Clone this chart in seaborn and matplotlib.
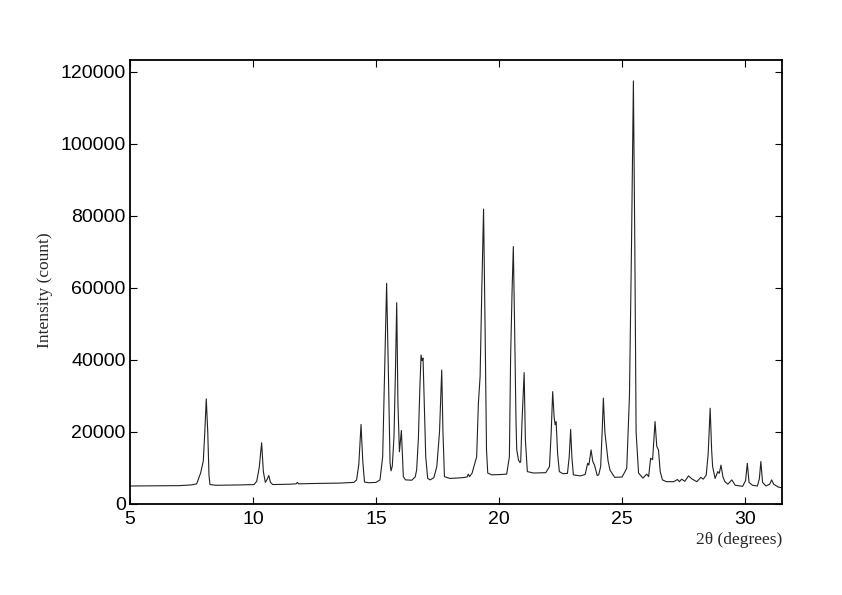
import matplotlib
matplotlib.use("Agg")
import matplotlib.pyplot as plt
import seaborn as sns
import pandas as pd

# 2-theta positions (degrees)
two_theta = [
    5.00, 6.00, 7.00, 7.50, 7.71, 7.87, 7.98, 8.04, 8.10, 8.16, 8.21, 8.25, 8.50,
    9.50, 10.04, 10.15, 10.25, 10.35, 10.42, 10.50, 10.57, 10.64, 10.71, 10.80,
    11.50, 11.75, 11.80, 11.85, 12.50, 13.50, 14.10, 14.21, 14.30, 14.39, 14.46,
    14.53, 14.70, 15.00, 15.16, 15.27, 15.35, 15.43, 15.50, 15.57, 15.61, 15.66,
    15.73, 15.79, 15.84, 15.89, 15.95, 16.03, 16.11, 16.20, 16.45, 16.59, 16.65,
    16.72, 16.78, 16.83, 16.87, 16.91, 16.96, 17.02, 17.10, 17.20, 17.35, 17.47,
    17.58, 17.67, 17.72, 17.78, 18.00, 18.50, 18.70, 18.75, 18.80, 18.90, 18.98,
    19.09, 19.16, 19.23, 19.30, 19.37, 19.43, 19.49, 19.54, 19.70, 20.10, 20.31,
    20.42, 20.47, 20.53, 20.58, 20.63, 20.69, 20.72, 20.79, 20.85, 20.88, 20.93,
    21.02, 21.07, 21.15, 21.40, 21.90, 22.05, 22.12, 22.18, 22.24, 22.28, 22.32,
    22.38, 22.45, 22.60, 22.78, 22.85, 22.91, 22.96, 23.02, 23.30, 23.50, 23.60,
    23.65, 23.74, 23.81, 23.88, 23.99, 24.05, 24.13, 24.19, 24.24, 24.30, 24.35,
    24.43, 24.51, 24.70, 25.00, 25.19, 25.30, 25.38, 25.46, 25.52, 25.57, 25.67,
    25.85, 26.00, 26.08, 26.16, 26.24, 26.34, 26.41, 26.48, 26.55, 26.64, 26.80,
    27.10, 27.25, 27.33, 27.42, 27.55, 27.70, 27.85, 28.04, 28.20, 28.30, 28.42,
    28.50, 28.58, 28.64, 28.68, 28.78, 28.89, 28.95, 29.02, 29.10, 29.18, 29.30,
    29.46, 29.60, 29.90, 30.02, 30.09, 30.16, 30.30, 30.50, 30.58, 30.64, 30.71,
    30.85, 31.00, 31.08, 31.16, 31.35, 31.50,
]

# Intensity (counts)
intensity = [
    5000, 5050, 5100, 5300, 5600, 8600, 12000, 20000, 29200, 20000, 8000, 5400, 5200,
    5300, 5400, 6300, 10000, 17000, 9000, 6000, 6800, 7900, 6000, 5400,
    5500, 5600, 6000, 5600, 5700, 5800, 6000, 6700, 11000, 22100, 12000,
    6100, 5900, 6000, 6700, 13100, 37200, 61300, 37200, 11300, 9200, 10500,
    18700, 37200, 55900, 28000, 14500, 20400, 7600, 6700, 6600, 7500, 9400,
    18000, 32000, 41400, 39800, 40500, 28000, 13100, 7100, 6700, 7300, 10400,
    20000, 37200, 20000, 7600, 7100, 7300, 7500, 8300, 7600, 8500, 10400,
    13100, 28000, 35400, 60000, 81900, 50000, 15000, 8600, 8100, 8200, 8300,
    13100, 40900, 59400, 71500, 50200, 22400, 15000, 12200, 11500, 11800, 22400,
    36500, 17800, 9000, 8600, 8700, 10400, 20000, 31200, 24000, 22000, 22900,
    14000, 9000, 8400, 8500, 13000, 20700, 13000, 8100, 7800, 8200, 11300,
    10800, 15000, 11800, 10800, 7900, 8100, 10400, 20000, 29400, 20000, 16900,
    12000, 9400, 7400, 7500, 9900, 30000, 70000, 117500, 70000, 20000, 8600,
    7200, 8300, 7600, 12700, 12300, 22900, 16000, 15000, 9000, 6700, 6200,
    6200, 6800, 6200, 6900, 6300, 7800, 6900, 6200, 7400, 6900, 8000,
    14000, 26600, 15000, 10400, 7100, 9000, 8500, 10800, 7500, 6200, 5500,
    6700, 5200, 4900, 6500, 11300, 6000, 5200, 5000, 7000, 11800, 6000,
    5000, 5500, 6700, 5500, 4700, 4500,
]

x_ticks = [5, 10, 15, 20, 25, 30]
y_ticks = [0, 20000, 40000, 60000, 80000, 100000, 120000]
x_label = "2θ (degrees)"
y_label = "Intensity (count)"

df = pd.DataFrame({"two_theta": two_theta, "intensity": intensity})

sns.set_theme(style="ticks")
plt.rcParams["font.family"] = ["Liberation Sans", "DejaVu Sans"]

fig = plt.figure(figsize=(8.42, 5.95), dpi=100)
ax = fig.add_axes([130 / 842, 1 - 504 / 595, (782 - 130) / 842, (504 - 60) / 595])

sns.lineplot(data=df, x="two_theta", y="intensity", ax=ax, color="#222222",
             linewidth=0.8, estimator=None, sort=False)

ax.set_xlim(5, 31.5)
ax.set_ylim(0, 123300)
ax.set_xticks(x_ticks)
ax.set_yticks(y_ticks)
ax.set_xticklabels([str(v) for v in x_ticks])
ax.set_yticklabels([str(v) for v in y_ticks])

ax.tick_params(axis="both", which="both", direction="in", length=5, width=0.8,
               top=True, right=True, labelsize=14, colors="black")
ax.tick_params(axis="x", pad=5)
ax.tick_params(axis="y", pad=3)

for side, sp in ax.spines.items():
    sp.set_visible(True)
    sp.set_color("black")
    sp.set_linewidth(1.3)

ax.set_xlabel("")
ax.set_ylabel("")
fig.text(782 / 842, 1 - 540 / 595, x_label, ha="right", va="center",
         fontsize=12.5, family=["Liberation Serif", "DejaVu Serif"])
fig.text(45 / 842, 1 - 290 / 595, y_label, ha="center", va="center", rotation=90,
         fontsize=12.5, family=["Liberation Serif", "DejaVu Serif"])

fig.savefig("out.png", dpi=100, facecolor="white")
